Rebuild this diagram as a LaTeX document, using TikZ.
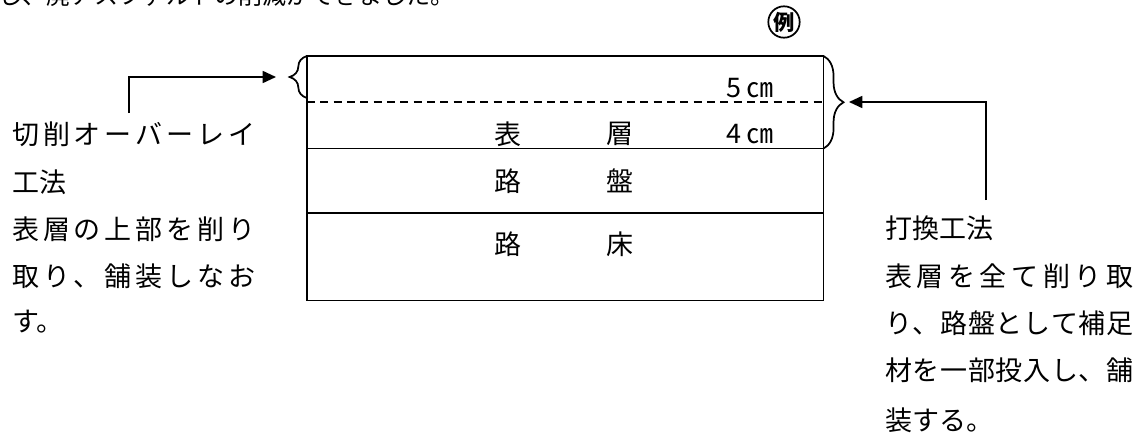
\documentclass[tikz,border=0pt]{standalone}
\usepackage{fontspec}
\newfontfamily\jp{Noto Sans CJK JP}
\usetikzlibrary{arrows.meta,decorations.pathreplacing,calc}
\def\sploop#1#2{#1\ifx\relax#2\else\hfill\expandafter\sploop\expandafter#2\fi}
\newcommand\spreadline[2]{\makebox[#1]{\sploop#2\relax}}
\tikzset{
  txt/.style={font=\jp\fontsize{20.25}{24}\selectfont, inner sep=0pt, anchor=west},
  boxtxt/.style={font=\jp\fontsize{20.25}{24}\selectfont, inner sep=0pt},
  layer/.style={minimum width=387pt, anchor=north west, inner sep=0pt},
  rule/.style={line width=1.3pt},
  conn/.style={line width=1.3pt, -{Triangle[length=10pt,width=9pt]}},
  dashline/.style={line width=1.3pt, dash pattern=on 6pt off 4pt},
  brc/.style={line width=1.3pt, decorate, decoration={brace, amplitude=#1}},
}
\begin{document}
\begin{tikzpicture}[x=0.75pt,y=-0.75pt]
\useasboundingbox (0,0) rectangle (1142,432);
\clip (0,0) rectangle (1142,432);
% clipped line of running text at the top
\node[txt, font=\jp\fontsize{18}{22}\selectfont] (top) at (-2,-5) {し、廃アスファルトの削減ができました。};
% circled mark
\node[circle, draw, line width=1.3pt, inner sep=0.5pt, font=\jp\bfseries\fontsize{16}{19}\selectfont] (rei) at (784,22) {例};
% pavement layers
\node[layer, minimum height=69pt] (L1) at (307,56) {};
\node[layer, minimum height=48pt] (L2) at (L1.south west) {};
\node[layer, minimum height=65.25pt] (L3) at (L2.south west) {};
\draw[rule] (L1.north west) rectangle (L3.south east);
\draw[rule] (L2.north west) -- (L2.north east);
\draw[rule] (L3.north west) -- (L3.north east);
\draw[dashline] ($(L1.north west)!0.5!(L1.south west)$) -- ($(L1.north east)!0.5!(L1.south east)$);
% texts in the layers
\node[boxtxt] (c5) at (750,88) {5\,㎝};
\node[boxtxt] (t1a) at (508,134) {表};
\node[boxtxt] (t1b) at (620,134) {層};
\node[boxtxt] (c4) at (750,134) {4\,㎝};
\node[boxtxt] (t2a) at (508,181) {路};
\node[boxtxt] (t2b) at (620,181) {盤};
\node[boxtxt] (t3a) at (508,244) {路};
\node[boxtxt] (t3b) at (620,244) {床};
% braces
\coordinate (lbb) at (307,98);
\draw[brc=13pt] (lbb) -- (L1.north west);
\draw[brc=15pt] (L1.north east) -- (L1.south east);
% arrows
\coordinate (la0) at (129,113);
\coordinate (lat) at (276,77);
\draw[conn] (la0) |- (lat);
\coordinate (ra0) at (986,200);
\coordinate (rat) at (849,102);
\draw[conn] (ra0) |- (rat);
% left description
\node[txt] (l1) at (12,134) {\spreadline{182.25pt}{切削オーバーレイ}};
\node[txt] (l2) at (12,182) {工法};
\node[txt] (l3) at (12,229) {\spreadline{182.25pt}{表層の上部を削り}};
\node[txt] (l4) at (12,276) {\spreadline{182.25pt}{取り、舗装しなお}};
\node[txt] (l5) at (12,322) {す。};
% right description
\node[txt] (r1) at (885,228) {打換工法};
\node[txt] (r2) at (885,276) {\spreadline{186pt}{表層を全て削り取}};
\node[txt] (r3) at (885,323) {\spreadline{186pt}{り、路盤として補足}};
\node[txt] (r4) at (885,370) {\spreadline{186pt}{材を一部投入し、舗}};
\node[txt] (r5) at (885,420) {装する。};
\end{tikzpicture}
\end{document}
